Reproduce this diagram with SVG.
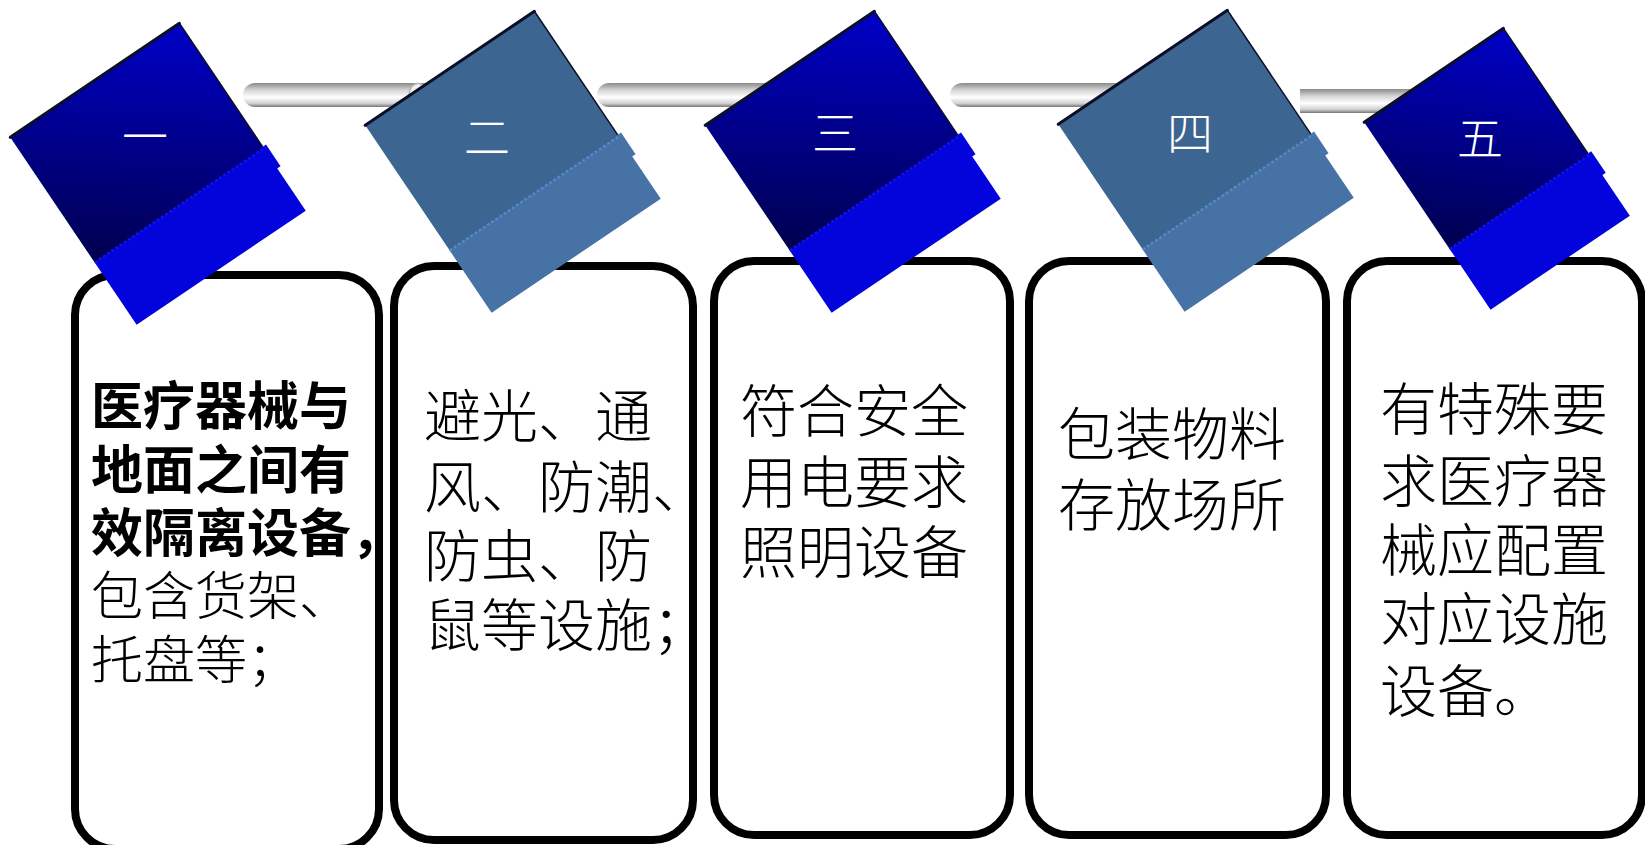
<svg xmlns="http://www.w3.org/2000/svg" width="1645" height="845" viewBox="0 0 1645 845">
  <defs>
    <linearGradient id="rodGrad" x1="0" y1="0" x2="0" y2="1">
      <stop offset="0" stop-color="#8a8a8a"/>
      <stop offset="0.3" stop-color="#d6d6d6"/>
      <stop offset="0.6" stop-color="#ffffff"/>
      <stop offset="0.85" stop-color="#d0d0d0"/>
      <stop offset="1" stop-color="#767676"/>
    </linearGradient>
    <linearGradient id="blueTop" x1="0" y1="1" x2="1" y2="0">
      <stop offset="0" stop-color="#00004e"/>
      <stop offset="1" stop-color="#0000c8"/>
    </linearGradient>
  </defs>
  <style>
    .box { fill: #ffffff; stroke: #000000; stroke-width: 8; }
    .rod { fill: url(#rodGrad); }
    .cap { fill: #f2f2f2; stroke: #b5b5b5; stroke-width: 1.5; }
    .topB { fill: url(#blueTop); }
    .bandB { fill: #0303dc; }
    .topS { fill: #3d6592; }
    .bandS { fill: #4672a5; }
    .seamB { stroke: #1010f0; stroke-width: 2.5; stroke-dasharray: 3 2; }
    .seamS { stroke: #5588c8; stroke-width: 2.5; stroke-dasharray: 3 2; }
    .edge { fill: none; stroke: #0b0f26; stroke-width: 3; stroke-linecap: round; }
    .edge2 { fill: none; stroke: #0b0f26; stroke-width: 1.5; }
    .num { font-family: "Noto Sans CJK SC", sans-serif; font-size: 46px; fill: #ffffff; text-anchor: middle; font-weight: 300; }
    .t { font-family: "Noto Sans CJK SC", sans-serif; fill: #000000; font-weight: 300; }
    .t57 { font-size: 57px; }
    .t52 { font-size: 52px; }
    .b { font-weight: 700; }
  </style>

  <g id="connectors">
    <rect class="rod" x="243" y="83" width="200" height="24" rx="12"/>
    <ellipse class="cap" cx="418" cy="95" rx="9" ry="11.5"/>
    <rect class="rod" x="597" y="83" width="190" height="24" rx="12"/>
    <rect class="rod" x="950" y="83" width="190" height="24" rx="12"/>
    <rect class="rod" x="1300" y="89" width="130" height="24"/>
  </g>

  <g id="box1">
    <rect class="box" x="75" y="275" width="304" height="574" rx="40"/>
    <text class="t t52"><tspan class="b" x="91" y="425">医疗器械与</tspan><tspan class="b" x="91" y="489">地面之间有</tspan><tspan class="b" x="91" y="552">效隔离设备，</tspan><tspan x="91" y="615">包含货架、</tspan><tspan x="91" y="679">托盘等；</tspan></text>
  </g>
  <g id="box2">
    <rect class="box" x="394" y="266" width="299" height="574" rx="40"/>
    <text class="t t57"><tspan x="424" y="437">避光、通</tspan><tspan x="424" y="508">风、防潮、</tspan><tspan x="424" y="577">防虫、防</tspan><tspan x="424" y="646">鼠等设施；</tspan></text>
  </g>
  <g id="box3">
    <rect class="box" x="714" y="261" width="296" height="574" rx="40"/>
    <text class="t t57"><tspan x="740" y="432">符合安全</tspan><tspan x="740" y="503">用电要求</tspan><tspan x="740" y="573">照明设备</tspan></text>
  </g>
  <g id="box4">
    <rect class="box" x="1029" y="261" width="297" height="574" rx="40"/>
    <text class="t t57"><tspan x="1058" y="455">包装物料</tspan><tspan x="1058" y="526">存放场所</tspan></text>
  </g>
  <g id="box5">
    <rect class="box" x="1347" y="261" width="295" height="574" rx="40"/>
    <text class="t t57"><tspan x="1380" y="430">有特殊要</tspan><tspan x="1380" y="502">求医疗器</tspan><tspan x="1380" y="571">械应配置</tspan><tspan x="1380" y="640">对应设施</tspan><tspan x="1380" y="712">设备。</tspan></text>
  </g>

  <g id="card1">
    <g transform="translate(158,174) rotate(-34)">
      <rect class="topB" x="-102" y="-113" width="204" height="152"/>
      <rect class="bandB" x="-102" y="38" width="204" height="75"/>
      <rect class="bandB" x="100" y="36" width="6" height="26"/>
      <line class="seamB" x1="-102" y1="38" x2="104" y2="38"/>
      <path class="edge" d="M-102,-113 L102,-113"/>
      <path class="edge2" d="M102,-113 L102,36"/>
    </g>
    <text class="num" x="145" y="153">一</text>
  </g>
  <g id="card2">
    <g transform="translate(513,162) rotate(-34)">
      <rect class="topS" x="-102" y="-113" width="204" height="152"/>
      <rect class="bandS" x="-102" y="38" width="204" height="75"/>
      <rect class="bandS" x="100" y="36" width="6" height="26"/>
      <line class="seamS" x1="-102" y1="38" x2="104" y2="38"/>
      <path class="edge" d="M-102,-113 L102,-113"/>
      <path class="edge2" d="M102,-113 L102,36"/>
    </g>
    <text class="num" x="487" y="154">二</text>
  </g>
  <g id="card3">
    <g transform="translate(853,162) rotate(-34)">
      <rect class="topB" x="-102" y="-113" width="204" height="152"/>
      <rect class="bandB" x="-102" y="38" width="204" height="75"/>
      <rect class="bandB" x="100" y="36" width="6" height="26"/>
      <line class="seamB" x1="-102" y1="38" x2="104" y2="38"/>
      <path class="edge" d="M-102,-113 L102,-113"/>
      <path class="edge2" d="M102,-113 L102,36"/>
    </g>
    <text class="num" x="835" y="150">三</text>
  </g>
  <g id="card4">
    <g transform="translate(1206,161) rotate(-34)">
      <rect class="topS" x="-102" y="-113" width="204" height="152"/>
      <rect class="bandS" x="-102" y="38" width="204" height="75"/>
      <rect class="bandS" x="100" y="36" width="6" height="26"/>
      <line class="seamS" x1="-102" y1="38" x2="104" y2="38"/>
      <path class="edge" d="M-102,-113 L102,-113"/>
      <path class="edge2" d="M102,-113 L102,36"/>
    </g>
    <text class="num" x="1190" y="150">四</text>
  </g>
  <g id="card5">
    <g transform="translate(1497,169) rotate(-34)">
      <rect class="topB" x="-84" y="-113" width="168" height="154"/>
      <rect class="bandB" x="-84" y="40" width="168" height="73"/>
      <rect class="bandB" x="82" y="38" width="6" height="26"/>
      <line class="seamB" x1="-84" y1="40" x2="86" y2="40"/>
      <path class="edge" d="M-84,-113 L84,-113"/>
      <path class="edge2" d="M84,-113 L84,38"/>
    </g>
    <text class="num" x="1480" y="155">五</text>
  </g>
</svg>
